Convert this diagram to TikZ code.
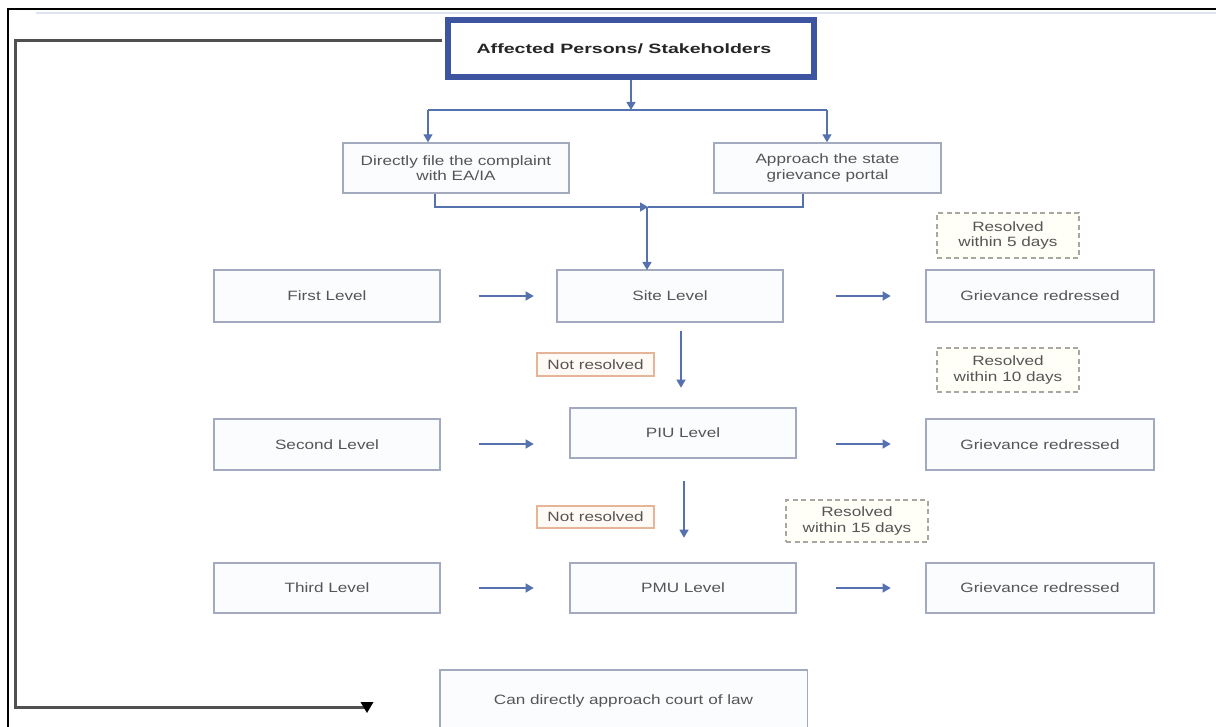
\documentclass[tikz,border=0pt]{standalone}
\usepackage{fontspec}
\setmainfont{Liberation Sans}
\newfontfamily\lblfont[FakeStretch=1.27]{Liberation Sans}
\newfontfamily\ttlfont[FakeStretch=1.45]{Liberation Sans}
\usetikzlibrary{arrows.meta,calc}
\definecolor{boxline}{HTML}{A3AABF}
\definecolor{boxfill}{HTML}{FBFCFE}
\definecolor{arrowblue}{HTML}{5572AE}
\definecolor{topblue}{HTML}{3D55A0}
\definecolor{txt}{HTML}{555555}
\definecolor{nrline}{HTML}{E6B597}
\definecolor{nrfill}{HTML}{FFFAF6}
\definecolor{dashline}{HTML}{A8A8A0}
\definecolor{dashfill}{HTML}{FFFFF7}
\definecolor{loopgray}{HTML}{505050}
\definecolor{faintblue}{HTML}{DDE3F0}
\begin{document}
\begin{tikzpicture}[x=1pt,y=-1pt,
  lbl/.style={font={\lblfont\fontsize{13.5}{15.5}\selectfont}, text=txt, align=center, inner sep=0pt},
  stagebox/.style={lbl, draw=boxline, fill=boxfill, line width=1.4pt, minimum width=226, minimum height=51},
  nrbox/.style={lbl, draw=nrline, fill=nrfill, line width=1.2pt, minimum width=117, minimum height=23},
  resbox/.style={lbl, draw=dashline, fill=dashfill, line width=1.3pt, dash pattern=on 5pt off 3.5pt, minimum width=142, minimum height=44},
  conn/.style={draw=arrowblue, line width=1.3pt},
  arr/.style={conn, -{Triangle[length=8pt,width=9pt]}},
  looppath/.style={draw=loopgray, line width=3pt}
]
\useasboundingbox (0,0) rectangle (1216,727);
% outer frame
\draw[faintblue, line width=2pt] (36,13) -- (1216,13);
\draw[black, line width=2pt] (8,728) -- (8,9) -- (1217,9);

% top node
\node[draw=topblue, line width=6pt, fill=white, minimum width=366, minimum height=57, inner sep=0pt,
      font={\ttlfont\bfseries\fontsize{13.5}{15.5}\selectfont}, text=black!85] (top) at (631,48.5) {\hspace*{-14pt}Affected Persons/ Stakeholders};

% entry boxes
\node[stagebox, minimum height=50] (ea) at (456,168) {Directly file the complaint\\with EA/IA};
\node[stagebox, minimum width=227, minimum height=50] (ap) at (827.5,168) {Approach the state\\grievance portal};

% level boxes
\node[stagebox, minimum height=52] (first) at (327,296) {First Level};
\node[stagebox, minimum height=52] (site) at (670,296) {Site Level};
\node[stagebox, minimum width=228, minimum height=52] (g1) at (1040,296) {Grievance redressed};

\node[stagebox] (second) at (327,444.5) {Second Level};
\node[stagebox, minimum height=50] (piu) at (683,433) {PIU Level};
\node[stagebox, minimum width=228] (g2) at (1040,444.5) {Grievance redressed};

\node[stagebox, minimum height=50] (third) at (327,588) {Third Level};
\node[stagebox, minimum height=50] (pmu) at (683,588) {PMU Level};
\node[stagebox, minimum width=228, minimum height=50] (g3) at (1040,588) {Grievance redressed};

% court box (bottom edge cut by page)
\node[lbl, fill=boxfill, minimum width=367, minimum height=62] (court) at (623.5,701) {\raisebox{3pt}{Can directly approach court of law}};
\draw[boxline, line width=1.4pt] ($(court.south west)+(0,5)$) -- (court.north west) -- (court.north east) -- ($(court.south east)+(0,5)$);

% labels
\node[nrbox] (nr1) at (595.5,364.5) {Not resolved};
\node[nrbox, minimum height=22] (nr2) at (595.5,517) {Not resolved};
\node[resbox, minimum height=45] (r5) at (1008,235.5) {Resolved\\within 5 days};
\node[resbox] (r10) at (1008,370) {Resolved\\within 10 days};
\node[resbox, minimum height=42] (r15) at (857,521) {Resolved\\within 15 days};

% top distribution
\coordinate (split) at (631,110);
\coordinate (bl) at (428,110);
\coordinate (br) at (827,110);
\draw[conn] (bl) -- (br);
\draw[arr] (top.south) -- (split);
\draw[arr] (bl) -- (bl |- ea.north);
\draw[arr] (br) -- (br |- ap.north);

% merge to site level
\coordinate (merge) at (648,207);
\draw[conn] ($(ap.south)+(-24.5,0)$) |- (merge);
\draw[arr] ($(ea.south)+(-21,0)$) |- (merge);
\draw[arr] (647,207) -- (647,270);

% row arrows
\draw[arr] ($(first.east)+(38,0)$) -- ++(55,0);
\draw[arr] ($(site.east)+(52,0)$) -- ++(55,0);
\draw[arr] ($(second.east)+(38,-0.5)$) -- ++(55,0);
\draw[arr] ($(piu.east)+(39,11)$) -- ++(55,0);
\draw[arr] ($(third.east)+(38,0)$) -- ++(55,0);
\draw[arr] ($(pmu.east)+(39,0)$) -- ++(55,0);

% vertical escalation arrows
\draw[arr] ($(site.south)+(11,8)$) -- ++(0,57);
\draw[arr] ($(piu.south)+(1,22)$) -- ++(0,57);

% feedback loop to court
\coordinate (fbend) at (367,707);
\draw[looppath] ($(top.west)+(-3,-7.5)$) -- (15,41) -- (15,707) -- (fbend);
\fill[black] ($(fbend)+(-6.5,-5)$) -- ($(fbend)+(6.5,-5)$) -- ($(fbend)+(0,6)$) -- cycle;
\end{tikzpicture}
\end{document}
